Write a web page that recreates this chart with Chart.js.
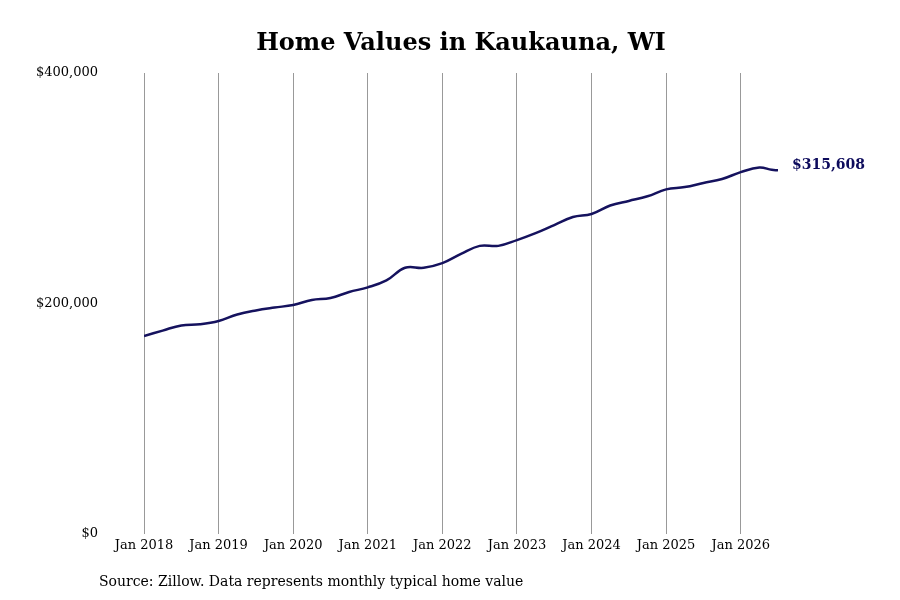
<!DOCTYPE html>
<html><head><meta charset="utf-8">
<script src="https://cdn.jsdelivr.net/npm/chart.js@4"></script>
<style>html,body{margin:0;padding:0;background:#fff}#w{width:900px;height:600px}</style>
</head><body><div id="w"><canvas id="c"></canvas></div>
<script>
const monthIndex = [0,3,6,9,12,15,18,21,24,27,30,33,36,39,42,45,48,51,54,57,60,63,66,69,72,75,78,81,84,87,90,93,96,99,101,102];
const homeValues = [171800,176500,181000,182000,184800,190500,194000,196500,198700,203000,204800,210000,214000,220000,231000,231000,235000,243000,250000,250000,255000,261000,268000,275000,277700,285000,289000,293000,299000,301000,304600,308000,314000,318000,316000,315608];
const tickMonths = [0,12,24,36,48,60,72,84,96];
const tickLabels = ["Jan 2018","Jan 2019","Jan 2020","Jan 2021","Jan 2022","Jan 2023","Jan 2024","Jan 2025","Jan 2026"];
const yTicks = [0,200000,400000];
const titleText = "Home Values in Kaukauna, WI";
const sourceText = "Source: Zillow. Data represents monthly typical home value";
const lastLabel = "$315,608";

const serif = "'DejaVu Serif', serif";
const fmt = v => "$" + v.toLocaleString("en-US");

const extras = {
  id: "extras",
  afterDraw(chart) {
    const ctx = chart.ctx;
    ctx.save();
    ctx.fillStyle = "#000";
    ctx.font = "bold 24px " + serif;
    ctx.textAlign = "center"; ctx.textBaseline = "middle";
    ctx.fillText(titleText, 461, 44);
    ctx.font = "14px " + serif;
    ctx.textAlign = "left";
    ctx.fillText(sourceText, 99, 582);
    const xs = chart.scales.x, ys = chart.scales.y;
    const i = homeValues.length - 1;
    ctx.fillStyle = "#0d0b5c";
    ctx.font = "bold 14px " + serif;
    ctx.fillText(lastLabel, xs.getPixelForValue(monthIndex[i]) + 14, ys.getPixelForValue(homeValues[i]) - 5);
    ctx.restore();
  }
};

new Chart(document.getElementById("c"), {
  type: "line",
  data: { datasets: [{ data: monthIndex.map((m, i) => ({ x: m, y: homeValues[i] })),
    borderColor: "#15125e", borderWidth: 2.5, pointRadius: 0, tension: 0.4, fill: false }] },
  options: {
    responsive: true, maintainAspectRatio: false, animation: false,
    layout: { padding: { top: 73, right: 122, left: 0, bottom: 0 } },
    plugins: { legend: { display: false }, tooltip: { enabled: false } },
    scales: {
      x: { type: "linear", min: 0, max: 102,
        afterBuildTicks: s => { s.ticks = tickMonths.map(v => ({ value: v })); },
        afterFit: s => { s.height = 66; },
        grid: { color: "#999", drawTicks: false, lineWidth: 1 },
        border: { display: false },
        ticks: { autoSkip: false, maxRotation: 0, padding: 4, color: "#000",
          font: { family: serif, size: 13 },
          callback: v => tickLabels[tickMonths.indexOf(v)] } },
      y: { min: 0, max: 400000,
        afterBuildTicks: s => { s.ticks = yTicks.map(v => ({ value: v })); },
        afterFit: s => { s.width = 144; },
        grid: { display: false },
        border: { display: false },
        ticks: { padding: 38, color: "#000", font: { family: serif, size: 13 }, callback: v => fmt(v) } }
    }
  },
  plugins: [extras]
});
</script></body></html>
